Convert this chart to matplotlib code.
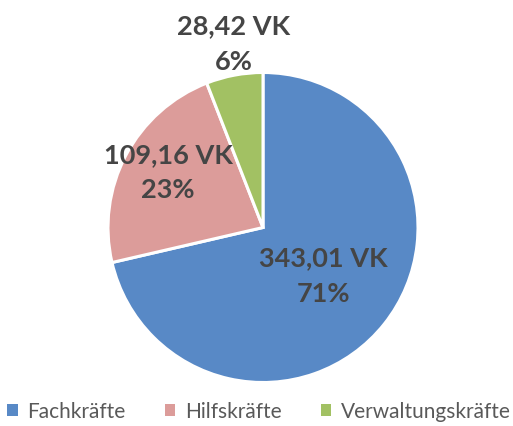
import matplotlib
matplotlib.use("Agg")
import matplotlib.pyplot as plt
from matplotlib.patches import Patch

categories = ["Fachkräfte", "Hilfskräfte", "Verwaltungskräfte"]
values = [343.01, 109.16, 28.42]
colors = ["#5889C6", "#DC9C9A", "#A2C163"]

W, H = 513, 427
fig = plt.figure(figsize=(W / 100, H / 100), dpi=100)
cx, cy, r = 263, 228.5, 155
ax = fig.add_axes([(cx - r) / W, (H - cy - r) / H, 2 * r / W, 2 * r / H])
ax.pie(values, colors=colors, startangle=90, counterclock=False, radius=1,
       wedgeprops=dict(edgecolor="white", linewidth=2.2))
ax.set_xlim(-1, 1)
ax.set_ylim(-1, 1)
ax.set_aspect("equal")
ax.axis("off")

total = sum(values)
label_pos = [(323, 276), (168, 172.5), (234, 44)]
for v, (px, py) in zip(values, label_pos):
    txt = f"{v:.2f}".replace(".", ",") + " VK\n" + f"{round(100 * v / total):d}%"
    ax.text((px - cx) / r, -(py - cy) / r, txt, ha="center", va="center",
            fontsize=19.5, fontweight="bold", family="Lato", color="#454545",
            linespacing=1.55, clip_on=False)

handles = [Patch(facecolor=c, edgecolor="none") for c in colors]
leg = fig.legend(handles, categories, loc="center", bbox_to_anchor=(0.505, (H - 412) / H),
                 ncol=3, frameon=False, prop=dict(family="Lato", size=15),
                 handlelength=0.5, handleheight=0.5, handletextpad=0.45,
                 columnspacing=1.9, labelcolor="#595959")
fig.savefig("out.png", dpi=100)
